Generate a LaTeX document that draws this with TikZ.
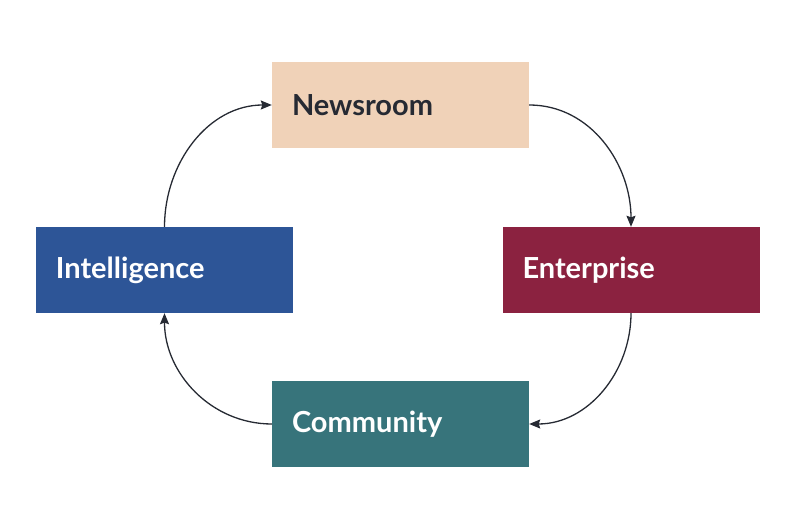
\documentclass[tikz,border=0pt]{standalone}
\usepackage{fontspec}
\setmainfont{Lato}
\usetikzlibrary{arrows.meta}
\definecolor{peach}{RGB}{240,210,184}
\definecolor{wine}{RGB}{139,34,64}
\definecolor{navy}{RGB}{45,85,151}
\definecolor{teal2}{RGB}{55,116,123}
\definecolor{ink}{RGB}{38,42,51}
\tikzset{
  box/.style={minimum width=257pt, minimum height=86pt, text width=217pt, inner xsep=20pt, inner ysep=0pt, align=left, font=\fontsize{29}{33}\selectfont\bfseries, anchor=center},
  conn/.style={draw=ink, line width=1.3pt, -{Stealth[length=11pt,width=9pt,inset=1.5pt]}},
}
\begin{document}
\begin{tikzpicture}[x=1pt,y=1pt]
\useasboundingbox (0,0) rectangle (796,513);
\node[box, fill=peach, text=ink] (news) at (400.5,408) {Newsroom};
\node[box, fill=wine, text=white] (ent) at (631,243) {Enterprise};
\node[box, fill=navy, text=white] (intel) at (164.5,243) {Intelligence};
\node[box, fill=teal2, text=white] (comm) at (400.5,89) {Community};
\draw[conn] (news.east) to[out=0,in=90] (ent.north);
\draw[conn] (ent.south) to[out=-90,in=0] (comm.east);
\draw[conn] (comm.west) to[out=180,in=-90] (intel.south);
\draw[conn] (intel.north) to[out=90,in=180] (news.west);
\end{tikzpicture}
\end{document}
